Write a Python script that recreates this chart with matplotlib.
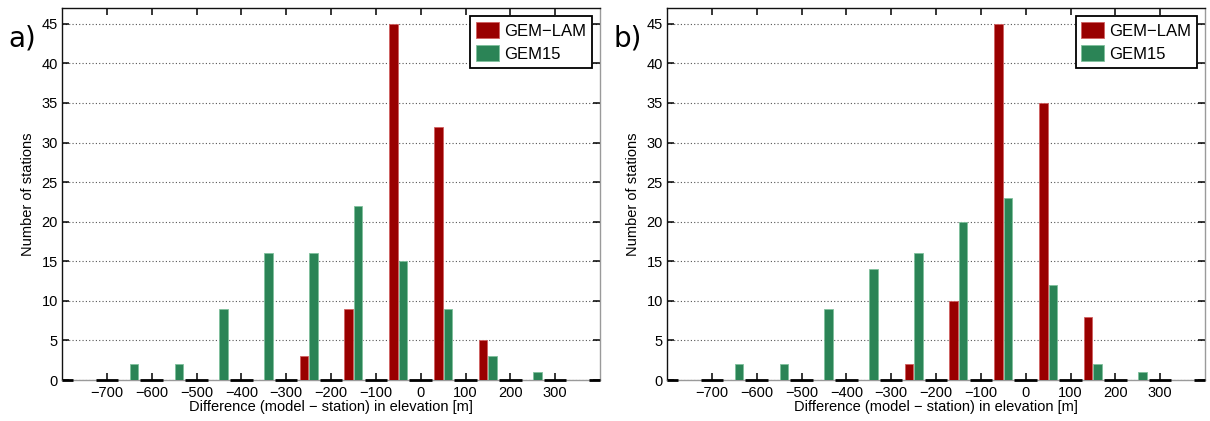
import matplotlib
matplotlib.use("Agg")
import matplotlib.pyplot as plt
import numpy as np

# bin centres (m) of the elevation-difference histogram
centers = [-800, -700, -650, -600, -550, -500, -450, -400, -350, -300, -250, -200,
           -150, -100, -50, 0, 50, 100, 150, 200, 250, 300, 400]

# panel a) counts
lam_a   = [0, 0, 0, 0, 0, 0, 0, 0, 0, 0, 3, 0, 9, 0, 45, 0, 32, 0, 5, 0, 0, 0, 0]
gem15_a = [0, 0, 2, 0, 2, 0, 9, 0, 16, 0, 16, 0, 22, 0, 15, 0, 9, 0, 3, 0, 1, 0, 0]
# panel b) counts
lam_b   = [0, 0, 0, 0, 0, 0, 0, 0, 0, 0, 2, 0, 10, 0, 45, 0, 35, 0, 8, 0, 0, 0, 0]
gem15_b = [0, 0, 2, 0, 2, 0, 9, 0, 14, 0, 16, 0, 20, 0, 23, 0, 12, 0, 2, 0, 1, 0, 0]

series_names = ["GEM\u2212LAM", "GEM15"]
xticks = [-700, -600, -500, -400, -300, -200, -100, 0, 100, 200, 300]
yticks = [0, 5, 10, 15, 20, 25, 30, 35, 40, 45]
panel_labels = ["a)", "b)"]

RED = "#990000"
GREEN = "#2b8456"

plt.rcParams["font.family"] = ["Liberation Sans", "DejaVu Sans"]

fig = plt.figure(figsize=(12.10, 4.21), dpi=100)
W, H = 1210.0, 421.0
ax_a = fig.add_axes([62 / W, (H - 380) / H, 538 / W, 372 / H])
ax_b = fig.add_axes([667 / W, (H - 380) / H, 538 / W, 372 / H])

bw = 19.0
off = 10.5
XLIM = (-800, 400)

for ax, lam, gem, lab, lx in [(ax_a, lam_a, gem15_a, panel_labels[0], 8),
                              (ax_b, lam_b, gem15_b, panel_labels[1], 613)]:
    c = np.array(centers, dtype=float)
    l = np.array(lam)
    g = np.array(gem)
    ax.set_axisbelow(True)
    ax.yaxis.grid(True, linestyle=(0, (1, 2)), color="#555555", linewidth=0.8)
    ax.bar(c - off, l, width=bw, color=RED, edgecolor="#d06060", linewidth=0.6,
           label=series_names[0], zorder=3)
    ax.bar(c + off, g, width=bw, color=GREEN, edgecolor="#7fc09c", linewidth=0.6,
           label=series_names[1], zorder=3)
    empty = (l == 0) & (g == 0)
    x0 = np.clip(c[empty] - 25, XLIM[0], XLIM[1])
    x1 = np.clip(c[empty] + 25, XLIM[0], XLIM[1])
    ax.hlines(np.zeros(empty.sum()), x0, x1,
              colors="black", linewidth=2.0, zorder=5, clip_on=False)
    ax.set_xlim(*XLIM)
    ax.set_ylim(0, 47)
    ax.set_xticks(xticks)
    ax.set_yticks(yticks)
    ax.tick_params(direction="in", top=True, right=True, length=5, width=1.1,
                   labelsize=10.5, pad=4, colors="black")
    ax.tick_params(axis="y", pad=3)
    ax.set_xlabel("Difference (model \u2212 station) in elevation [m]", fontsize=10.5, labelpad=0)
    ax.set_ylabel("Number of stations", fontsize=10.5, labelpad=5)
    for s in ["left", "top"]:
        ax.spines[s].set_color("#111111")
        ax.spines[s].set_linewidth(1.0)
    for s in ["right", "bottom"]:
        ax.spines[s].set_color("#9a9a9a")
        ax.spines[s].set_linewidth(1.0)
    leg = ax.legend(loc="upper right", fontsize=12, frameon=True, fancybox=False,
                    handlelength=1.35, handleheight=1.1, borderpad=0.35, labelspacing=0.4,
                    handletextpad=0.3, borderaxespad=0.5)
    leg.get_frame().set_edgecolor("black")
    leg.get_frame().set_linewidth(1.3)
    leg.get_frame().set_alpha(1)
    fig.text(lx / W, (H - 38) / H, lab, fontsize=20, family="DejaVu Sans",
             ha="left", va="center")

fig.savefig("out.png", dpi=100)
